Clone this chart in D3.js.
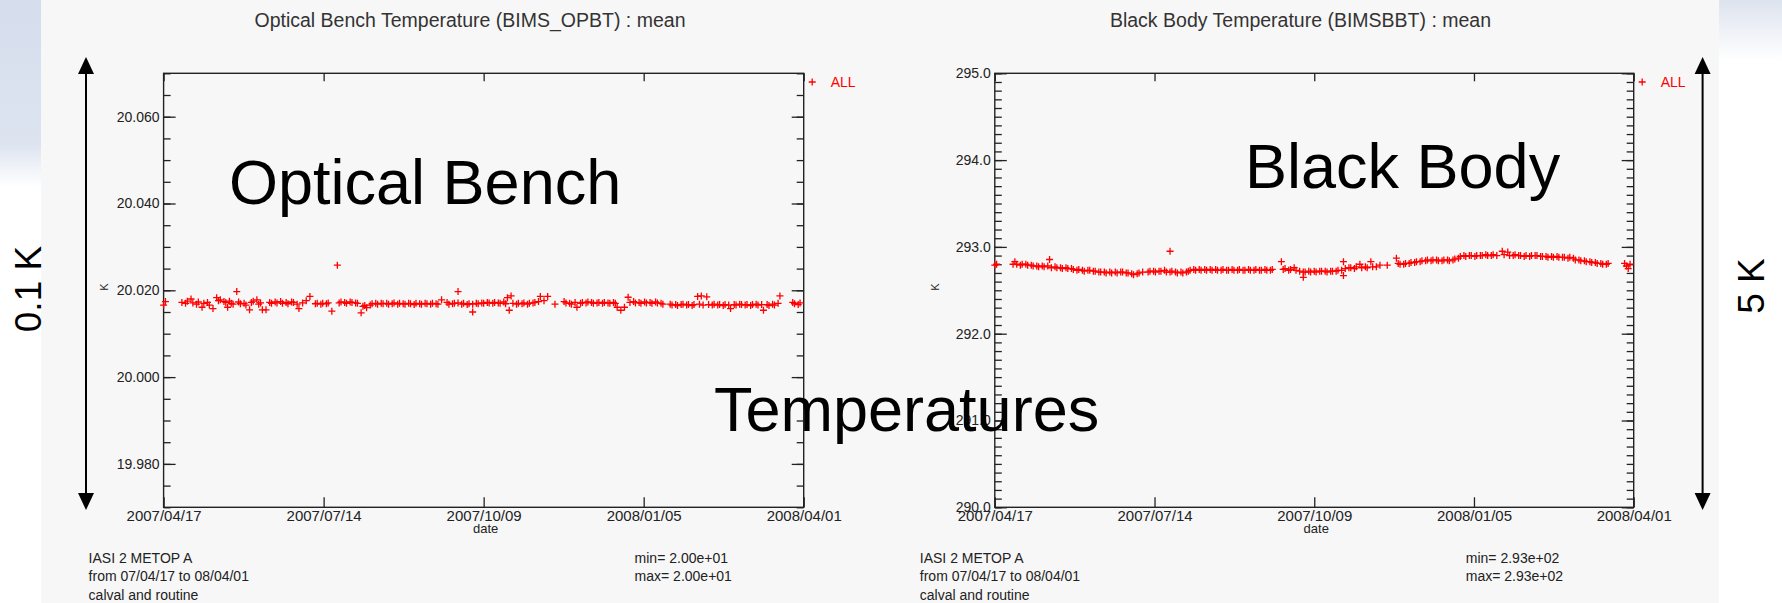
<!DOCTYPE html>
<html>
<head>
<meta charset="utf-8">
<script src="https://cdn.jsdelivr.net/npm/d3@7"></script>
<style>
  body { margin: 0; background: #fff; }
  svg text { font-family: "Liberation Sans", Arial, sans-serif; }
</style>
</head>
<body>
<div id="chart"></div>
<script>
// Time range and tick labels of both panels
const startDate = new Date(2007, 3, 17);
const endDate = new Date(2008, 3, 1);
const dateLabels = ["2007/04/17", "2007/07/14", "2007/10/09", "2008/01/05", "2008/04/01"];

// Optical bench: [days since 2007/04/17, mean K]
const opbtMean = [
  [0,20.0166],[1,20.0174],
  [10,20.0172],[12,20.0170],[13,20.0175],[15,20.0180],[16,20.0171],[18,20.0168],[19,20.0173],[21,20.0161],[22,20.0170],[24,20.0172],[25,20.0166],[27,20.0158],
  [29,20.0183],[30,20.0176],[31,20.0178],[33,20.0174],[34,20.0172],[35,20.0161],[36,20.0175],[37,20.0170],
  [38,20.0168],[40,20.0197],[41,20.0173],[42,20.0169],[44,20.0170],[45,20.0166],[47,20.0155],[48,20.0172],[49,20.0175],[51,20.0178],[52,20.0168],[53,20.0171],[54,20.0155],[56,20.0155],
  [58,20.0172],[59,20.0170],[61,20.0173],[62,20.0171],[64,20.0174],[65,20.0170],[67,20.0172],[68,20.0169],[70,20.0173],[71,20.0172],[73,20.0168],[74,20.0158],[76,20.0171],[78,20.0176],[80,20.0186],
  [83,20.0169],[84,20.0170],[86,20.0168],[87,20.0170],[89,20.0169],[90,20.0171],[92,20.0152],
  [95,20.0258],
  [96,20.0171],[97,20.0173],[99,20.0172],[100,20.0170],[102,20.0173],[103,20.0172],[105,20.0171],[106,20.0170],
  [108,20.0148],[109,20.0163],[110,20.0165],[111,20.0160],[113,20.0166],
  [114,20.0169],[116,20.0170],[117,20.0168],[119,20.0170],[120,20.0169],[122,20.0170],[123,20.0168],[125,20.0169],[126,20.0171],[128,20.0168],[129,20.0170],[131,20.0169],[132,20.0168],
  [134,20.0170],[135,20.0169],[137,20.0167],[138,20.0170],[140,20.0169],[141,20.0168],[143,20.0170],[144,20.0169],[146,20.0168],[147,20.0170],[149,20.0169],[150,20.0168],[152,20.0178],
  [155,20.0172],[156,20.0168],[158,20.0169],[159,20.0170],[161,20.0197],[161,20.0171],[163,20.0168],[164,20.0170],[166,20.0167],[167,20.0169],[169,20.0150],[169,20.0168],
  [171,20.0170],[172,20.0169],[174,20.0171],[175,20.0170],[177,20.0172],[178,20.0171],[180,20.0170],[181,20.0172],[183,20.0171],[184,20.0170],[186,20.0173],[187,20.0169],
  [188,20.0183],[189,20.0154],[190,20.0187],
  [191,20.0170],[193,20.0168],[194,20.0170],[196,20.0169],[197,20.0171],[199,20.0168],[200,20.0170],[202,20.0171],[203,20.0172],[205,20.0174],[206,20.0186],[208,20.0176],[210,20.0186],
  [214,20.0168],
  [219,20.0174],[220,20.0171],[222,20.0170],[223,20.0168],[225,20.0172],[226,20.0161],[228,20.0170],[229,20.0172],[231,20.0171],[232,20.0173],[234,20.0172],[235,20.0170],
  [237,20.0171],[238,20.0172],[240,20.0170],[241,20.0172],[243,20.0171],[244,20.0170],[246,20.0172],[247,20.0170],[248,20.0161],[250,20.0154],
  [252,20.0161],[254,20.0184],
  [255,20.0172],[257,20.0174],[258,20.0171],[260,20.0172],[261,20.0170],[263,20.0173],[264,20.0171],[266,20.0172],[267,20.0170],[269,20.0173],[270,20.0171],[272,20.0170],[273,20.0168],
  [277,20.0168],[278,20.0166],[280,20.0167],[281,20.0165],[283,20.0167],[284,20.0168],[286,20.0166],[287,20.0167],[289,20.0165],[290,20.0167],[292,20.0186],[293,20.0168],
  [294,20.0187],[295,20.0166],[297,20.0185],[298,20.0167],[300,20.0166],[301,20.0168],[303,20.0166],[304,20.0167],[306,20.0165],[307,20.0167],[309,20.0166],[310,20.0158],
  [312,20.0167],[313,20.0166],[315,20.0168],[316,20.0167],[318,20.0166],[319,20.0167],[321,20.0165],[322,20.0167],[324,20.0168],[325,20.0166],[327,20.0167],[328,20.0154],
  [330,20.0167],[331,20.0165],[333,20.0168],[334,20.0166],[336,20.0170],[337,20.0187],
  [344,20.0172],[345,20.0169],[347,20.0167],[348,20.0171]
];

// Black body: [days since 2007/04/17, mean K]
const bbtMean = [
  [0,292.79],[1,292.80],
  [10,292.80],[11,292.83],[12,292.80],[14,292.79],[15,292.80],[17,292.80],[18,292.79],[20,292.79],[21,292.78],[23,292.78],[24,292.77],[26,292.78],[27,292.77],[29,292.78],
  [30,292.855],[31,292.76],[33,292.77],[34,292.76],[36,292.76],[37,292.75],[39,292.76],[40,292.75],[42,292.75],
  [43,292.74],[45,292.73],[46,292.74],[48,292.73],[49,292.72],[51,292.73],[52,292.73],[54,292.72],[55,292.72],[57,292.71],
  [58,292.71],[60,292.71],[61,292.70],[63,292.71],[64,292.70],[66,292.71],[67,292.70],[69,292.71],[70,292.71],[72,292.70],[73,292.70],[75,292.69],[76,292.68],[78,292.69],[79,292.70],[81,292.71],
  [84,292.71],[85,292.72],[87,292.72],[88,292.71],[90,292.72],[91,292.72],[93,292.73],[94,292.71],[96,292.95],[96,292.71],[97,292.72],[99,292.71],[100,292.70],[102,292.71],[103,292.70],[105,292.71],[106,292.72],
  [107,292.73],[109,292.74],[110,292.73],[112,292.74],[113,292.73],[115,292.74],[116,292.73],[118,292.74],[119,292.73],[121,292.74],[122,292.73],[124,292.73],[125,292.74],[127,292.73],
  [128,292.73],[130,292.74],[131,292.73],[133,292.73],[134,292.74],[136,292.73],[137,292.73],[139,292.74],[140,292.73],[142,292.73],[143,292.74],[145,292.73],[146,292.73],[148,292.74],
  [149,292.73],[151,292.73],[152,292.74],
  [157,292.83],[158,292.74],[159,292.75],[161,292.73],[162,292.74],[164,292.76],[165,292.73],[167,292.72],[169,292.65],[169,292.71],[170,292.71],[172,292.72],[173,292.71],[175,292.72],
  [176,292.71],[178,292.72],[179,292.72],[181,292.72],[182,292.71],[184,292.72],[185,292.72],[187,292.72],[188,292.73],[190,292.73],[191,292.83],[191,292.67],[192,292.75],[194,292.76],
  [195,292.76],[197,292.75],[198,292.77],[200,292.80],[201,292.76],[203,292.77],[204,292.76],[206,292.83],[207,292.77],[209,292.77],[211,292.79],
  [215,292.79],
  [220,292.87],[221,292.81],[222,292.80],[224,292.80],[225,292.81],[227,292.81],[228,292.82],[230,292.82],[231,292.83],[233,292.83],[234,292.84],[236,292.84],[237,292.85],[239,292.84],
  [240,292.85],[242,292.85],[243,292.84],[245,292.84],[246,292.85],[248,292.85],[249,292.84],[251,292.85],[252,292.86],[254,292.87],
  [255,292.89],[257,292.90],[258,292.89],[260,292.90],[261,292.90],[263,292.89],[264,292.90],[266,292.90],[267,292.90],[269,292.91],[270,292.90],[272,292.90],[273,292.91],[275,292.90],
  [278,292.95],[279,292.91],[281,292.94],[282,292.90],[284,292.90],[285,292.91],[287,292.90],[288,292.90],[290,292.89],[291,292.90],[293,292.89],[294,292.90],[296,292.90],[297,292.90],
  [299,292.89],[300,292.89],[302,292.89],[303,292.88],[305,292.89],[306,292.88],[308,292.89],[309,292.88],[311,292.88],[312,292.88],[314,292.87],[315,292.88],[317,292.87],
  [318,292.85],[320,292.85],[321,292.84],[323,292.84],[324,292.83],[326,292.83],[327,292.82],[329,292.82],[330,292.81],[332,292.81],[333,292.80],[335,292.80],[336,292.81],
  [345,292.81],[346,292.78],[347,292.75],[348,292.80]
];

// Y axis labels
const opbtTicks = [19.980, 20.000, 20.020, 20.040, 20.060];
const bbtTicks = [290.0, 291.0, 292.0, 293.0, 294.0, 295.0];

const width = 1782, height = 603;
const plotTop = 73.3, plotBottom = 507.3;

const svg = d3.select("#chart")
    .append("svg")
    .attr("width", width)
    .attr("height", height);

// Slide background: white with a pale blue wash on both edges
const defs = svg.append("defs");
const leftGrad = defs.append("linearGradient").attr("id", "leftWash").attr("x1", 0).attr("y1", 0).attr("x2", 0).attr("y2", 1);
leftGrad.append("stop").attr("offset", 0).attr("stop-color", "#d5dded");
leftGrad.append("stop").attr("offset", 0.24).attr("stop-color", "#dde4f0");
leftGrad.append("stop").attr("offset", 0.31).attr("stop-color", "#ffffff");
const rightGrad = defs.append("linearGradient").attr("id", "rightWash").attr("x1", 0).attr("y1", 0).attr("x2", 0).attr("y2", 1);
rightGrad.append("stop").attr("offset", 0).attr("stop-color", "#dde3ee");
rightGrad.append("stop").attr("offset", 0.1).attr("stop-color", "#ffffff");

svg.append("rect").attr("width", width).attr("height", height).attr("fill", "#fff");
svg.append("rect").attr("width", 41).attr("height", height).attr("fill", "url(#leftWash)");
svg.append("rect").attr("x", 1719).attr("width", width - 1719).attr("height", height).attr("fill", "url(#rightWash)");
svg.append("rect").attr("x", 41).attr("width", 1719 - 41).attr("height", height).attr("fill", "#f7f7f7");

const crossPath = "M-3.5,0H3.5M0,-3.5V3.5";

function drawPanel(cfg) {
    const g = svg.append("g");

    const x = d3.scaleTime().domain([startDate, endDate]).range([cfg.x0, cfg.x1]);
    const y = d3.scaleLinear().domain(cfg.yDomain).range([plotBottom, plotTop]);

    const dateTicks = dateLabels.map((d, i) => d3.interpolateDate(startDate, endDate)(i / (dateLabels.length - 1)));
    const minors = y.ticks(cfg.minorCount);

    // Frame
    g.append("rect")
        .attr("x", cfg.x0).attr("y", plotTop)
        .attr("width", cfg.x1 - cfg.x0).attr("height", plotBottom - plotTop)
        .attr("fill", "none").attr("stroke", "#222").attr("stroke-width", 1.4);

    // Y axes (ticks point inward on both sides)
    const yLabels = g.append("g").attr("class", "axis")
        .attr("transform", `translate(${cfg.x0},0)`)
        .call(d3.axisLeft(y).tickValues(cfg.yTicks).tickFormat(cfg.yFormat).tickSize(-12).tickPadding(4));
    g.append("g").attr("class", "axis")
        .attr("transform", `translate(${cfg.x0},0)`)
        .call(d3.axisLeft(y).tickValues(minors).tickFormat("").tickSize(-7));
    g.append("g").attr("class", "axis")
        .attr("transform", `translate(${cfg.x1},0)`)
        .call(d3.axisRight(y).tickValues(cfg.yTicks).tickFormat("").tickSize(-12));
    g.append("g").attr("class", "axis")
        .attr("transform", `translate(${cfg.x1},0)`)
        .call(d3.axisRight(y).tickValues(minors).tickFormat("").tickSize(-7));

    // X axes
    const xLabels = g.append("g").attr("class", "axis")
        .attr("transform", `translate(0,${plotBottom})`)
        .call(d3.axisBottom(x).tickValues(dateTicks).tickFormat((d, i) => dateLabels[i]).tickSize(-10).tickPadding(3));
    g.append("g").attr("class", "axis")
        .attr("transform", `translate(0,${plotTop})`)
        .call(d3.axisTop(x).tickValues(dateTicks).tickFormat("").tickSize(-8));

    g.selectAll(".axis .domain").remove();
    g.selectAll(".axis line").attr("stroke", "#222").attr("stroke-width", 1.3);
    g.selectAll(".axis text").attr("fill", "#222").attr("font-family", null);
    yLabels.attr("font-size", 14);
    xLabels.attr("font-size", 15);

    // Points
    g.append("g")
        .selectAll("path")
        .data(cfg.series)
        .enter()
        .append("path")
        .attr("d", crossPath)
        .attr("transform", d => `translate(${x(d3.timeDay.offset(startDate, d[0]))},${y(d[1])})`)
        .attr("fill", "none")
        .attr("stroke", "#ff0000")
        .attr("stroke-width", 1.3);

    // Legend
    g.append("path")
        .attr("d", crossPath)
        .attr("transform", `translate(${cfg.x1 + 8.5},82)`)
        .attr("fill", "none").attr("stroke", "#ff0000").attr("stroke-width", 1.3);
    g.append("text")
        .attr("x", cfg.x1 + 27).attr("y", 87)
        .attr("font-size", 14).attr("fill", "#ff0000")
        .text("ALL");

    // Title, axis names and footer
    g.append("text")
        .attr("x", cfg.titleX).attr("y", 27)
        .attr("text-anchor", "middle")
        .attr("font-size", 19.5).attr("fill", "#333")
        .text(cfg.title);
    g.append("text")
        .attr("x", (cfg.x0 + cfg.x1) / 2 + 2).attr("y", 533)
        .attr("text-anchor", "middle")
        .attr("font-size", 13).attr("fill", "#222")
        .text("date");
    g.append("text")
        .attr("transform", `translate(${cfg.x0 - 56},287) rotate(-90)`)
        .attr("text-anchor", "middle")
        .attr("font-size", 11).attr("fill", "#222")
        .text("K");

    const footer = ["IASI 2 METOP A", "from 07/04/17 to 08/04/01", "calval and routine"];
    g.selectAll("text.footer")
        .data(footer)
        .enter()
        .append("text")
        .attr("class", "footer")
        .attr("x", cfg.x0 - 75).attr("y", (d, i) => 563 + i * 18.4)
        .attr("font-size", 14).attr("fill", "#222")
        .text(d => d);
    g.selectAll("text.range")
        .data([cfg.minText, cfg.maxText])
        .enter()
        .append("text")
        .attr("class", "range")
        .attr("x", cfg.x0 + 471).attr("y", (d, i) => 563 + i * 18.4)
        .attr("font-size", 14).attr("fill", "#222")
        .text(d => d);
}

drawPanel({
    x0: 163.6, x1: 803.7,
    yDomain: [19.970, 20.070], yTicks: opbtTicks, minorCount: 20, yFormat: d3.format(".3f"),
    series: opbtMean,
    title: "Optical Bench Temperature (BIMS_OPBT) : mean", titleX: 470,
    minText: "min= 2.00e+01", maxText: "max= 2.00e+01"
});

drawPanel({
    x0: 994.8, x1: 1633.7,
    yDomain: [290, 295], yTicks: bbtTicks, minorCount: 50, yFormat: d3.format(".1f"),
    series: bbtMean,
    title: "Black Body Temperature (BIMSBBT) : mean", titleX: 1300.5,
    minText: "min= 2.93e+02", maxText: "max= 2.93e+02"
});

// Slide annotations on top of the plots
const notes = svg.append("g").attr("fill", "#000");
notes.append("text").attr("x", 229).attr("y", 204).attr("font-size", 63).text("Optical Bench");
notes.append("text").attr("x", 1245).attr("y", 188).attr("font-size", 63).text("Black Body");
notes.append("text").attr("x", 714).attr("y", 431).attr("font-size", 63).text("Temperatures");
notes.append("text").attr("transform", "translate(41,289) rotate(-90)").attr("text-anchor", "middle").attr("font-size", 37).text("0.1 K");
notes.append("text").attr("transform", "translate(1764,286) rotate(-90)").attr("text-anchor", "middle").attr("font-size", 37).text("5 K");

// Double-headed arrows for the scale span
function doubleArrow(xPos) {
    const a = svg.append("g");
    a.append("line")
        .attr("x1", xPos).attr("x2", xPos)
        .attr("y1", 70).attr("y2", 497)
        .attr("stroke", "#000").attr("stroke-width", 2);
    a.append("path")
        .attr("d", `M${xPos},57L${xPos - 8},74L${xPos + 8},74Z`)
        .attr("fill", "#000");
    a.append("path")
        .attr("d", `M${xPos},510L${xPos - 8},493L${xPos + 8},493Z`)
        .attr("fill", "#000");
}
doubleArrow(86);
doubleArrow(1702.6);
</script>
</body>
</html>
